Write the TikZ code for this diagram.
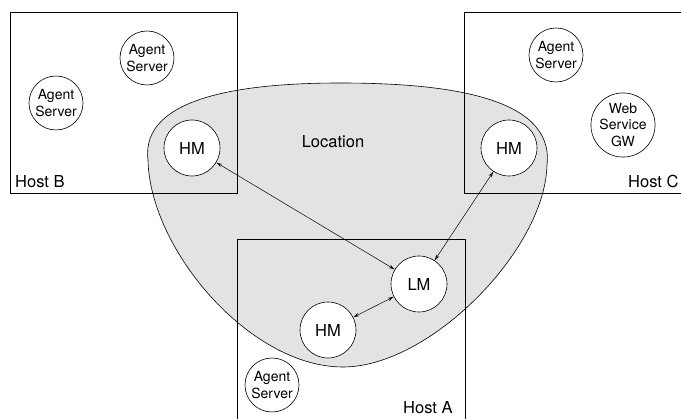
\documentclass[tikz,border=0pt]{standalone}
\usepackage{fontspec}
\setmainfont{TeX Gyre Heros}
\usetikzlibrary{arrows.meta}
\begin{document}
\begin{tikzpicture}[x=1pt,y=-1pt,
  every node/.style={font=\fontsize{16.5}{19}\selectfont},
  mgr/.style={circle,draw,fill=white,minimum size=56pt,inner sep=0pt,line width=0.6pt},
  srv/.style={circle,draw,fill=white,minimum size=54pt,inner sep=0pt,align=center,line width=0.6pt,font=\fontsize{14}{16.5}\selectfont},
  hostbox/.style={draw,line width=0.7pt},
  link/.style={{Stealth[open,length=6pt,width=3.5pt]}-{Stealth[open,length=6pt,width=3.5pt]},line width=0.5pt},
  hostlabel/.style={anchor=base west,inner sep=0pt}]
\useasboundingbox (0,0) rectangle (681,419);
\clip (0,0) rectangle (681,419);
\def\blobpath{(148,160) .. controls (140,95) and (250,83) .. (340,83)
  .. controls (440,83) and (555,95) .. (547,165)
  .. controls (545,250) and (430,367) .. (343,367)
  .. controls (250,367) and (150,250) .. (148,160) -- cycle}
% location blob fill
\fill[black!11] \blobpath;
% hosts
\draw[hostbox] (10,12) rectangle (237,193);
\draw[hostbox] (464,12) rectangle (700,193);
\draw[hostbox] (237,239) rectangle (465,430);
% blob outline
\draw[line width=0.6pt] \blobpath;
% labels
\node[hostlabel] (lb) at (15,188) {Host B};
\node[hostlabel] (lc) at (628,188) {Host C};
\node[hostlabel] (la) at (403,414) {Host A};
\node (loc) at (333,142) {Location};
% servers
\node[srv] (asb1) at (147,58) {Agent\\Server};
\node[srv] (asb2) at (56,103) {Agent\\Server};
\node[srv] (asc) at (556,55) {Agent\\Server};
\node[srv] (ws) at (623,125) {Web\\Service\\GW};
\node[srv] (asa) at (272,385) {Agent\\Server};
% managers
\node[mgr] (hmb) at (192,148) {HM};
\node[mgr] (hmc) at (509,148) {HM};
\node[mgr] (lm) at (419,284) {LM};
\node[mgr] (hma) at (328,330) {HM};
% links
\draw[link] (hmb) -- (lm);
\draw[link] (hmc) -- (lm);
\draw[link] (hma) -- (lm);
\end{tikzpicture}
\end{document}
